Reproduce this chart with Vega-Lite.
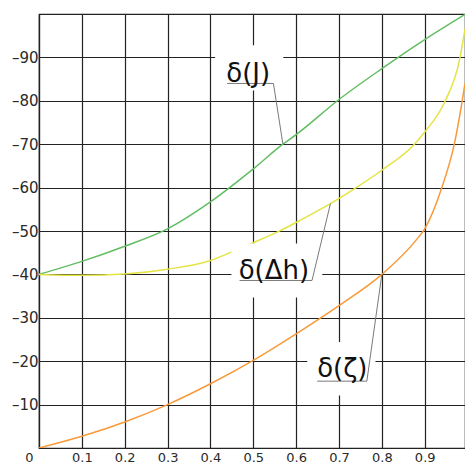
{
  "$schema": "https://vega.github.io/schema/vega-lite/v6.json",
  "width": 426,
  "height": 434,
  "autosize": "none",
  "padding": {"left": 39, "top": 14, "right": 0, "bottom": 17},
  "background": "white",
  "config": {
    "view": {"stroke": "#222", "strokeWidth": 1.2},
    "axis": {
      "title": null,
      "grid": true,
      "gridColor": "#222",
      "gridWidth": 1.2,
      "gridOpacity": 1,
      "domainColor": "#222",
      "domainWidth": 1.2,
      "tickSize": 0,
      "labelFont": "DejaVu Sans",
      "labelColor": "#2a2a2a",
      "labelOverlap": false,
      "labelFlush": false
    }
  },
  "layer": [
    {
      "data": {"values": [
        {"s": "J", "x": 0, "y": 40}, {"s": "J", "x": 0.1, "y": 43}, {"s": "J", "x": 0.2, "y": 46.5}, {"s": "J", "x": 0.3, "y": 50.5}, {"s": "J", "x": 0.4, "y": 56.7}, {"s": "J", "x": 0.5, "y": 64.3}, {"s": "J", "x": 0.569, "y": 70}, {"s": "J", "x": 0.6, "y": 72.2}, {"s": "J", "x": 0.7, "y": 80.3}, {"s": "J", "x": 0.8, "y": 87.4}, {"s": "J", "x": 0.9, "y": 94.1}, {"s": "J", "x": 0.994, "y": 99.9},
        {"s": "Dh", "x": 0, "y": 40}, {"s": "Dh", "x": 0.1, "y": 39.8}, {"s": "Dh", "x": 0.2, "y": 40.1}, {"s": "Dh", "x": 0.3, "y": 41.2}, {"s": "Dh", "x": 0.4, "y": 43.2}, {"s": "Dh", "x": 0.45, "y": 45.2}, {"s": "Dh", "x": 0.5, "y": 47.3}, {"s": "Dh", "x": 0.563, "y": 50.1}, {"s": "Dh", "x": 0.61, "y": 52.5}, {"s": "Dh", "x": 0.68, "y": 56.3}, {"s": "Dh", "x": 0.74, "y": 60}, {"s": "Dh", "x": 0.8, "y": 64}, {"s": "Dh", "x": 0.876, "y": 70}, {"s": "Dh", "x": 0.9, "y": 72.8}, {"s": "Dh", "x": 0.948, "y": 80}, {"s": "Dh", "x": 0.981, "y": 89.3}, {"s": "Dh", "x": 0.994, "y": 96.5},
        {"s": "Z", "x": 0, "y": 0}, {"s": "Z", "x": 0.1, "y": 2.7}, {"s": "Z", "x": 0.2, "y": 6.0}, {"s": "Z", "x": 0.3, "y": 10}, {"s": "Z", "x": 0.4, "y": 14.8}, {"s": "Z", "x": 0.5, "y": 20.2}, {"s": "Z", "x": 0.6, "y": 26.3}, {"s": "Z", "x": 0.7, "y": 32.8}, {"s": "Z", "x": 0.8, "y": 40}, {"s": "Z", "x": 0.88, "y": 47.9}, {"s": "Z", "x": 0.9, "y": 50.5}, {"s": "Z", "x": 0.94, "y": 60}, {"s": "Z", "x": 0.969, "y": 70}, {"s": "Z", "x": 0.985, "y": 78.5}, {"s": "Z", "x": 0.994, "y": 84}
      ]},
      "mark": {"type": "line", "interpolate": "monotone", "strokeWidth": 1.5, "clip": true},
      "encoding": {
        "x": {
          "field": "x", "type": "quantitative",
          "scale": {"domain": [0, 0.994], "nice": false, "zero": false},
          "axis": {
            "values": [0, 0.1, 0.2, 0.3, 0.4, 0.5, 0.6, 0.7, 0.8, 0.9],
            "labelExpr": "datum.value == 0 ? '0' : format(datum.value, '.1f')",
            "labelFontSize": 13,
            "labelPadding": 3,
            "labelAlign": "center",
            "labelOffset": {"condition": {"test": "datum.value == 0", "value": -10}, "value": 0}
          }
        },
        "y": {
          "field": "y", "type": "quantitative",
          "scale": {"domain": [0, 100], "nice": false},
          "axis": {
            "values": [10, 20, 30, 40, 50, 60, 70, 80, 90],
            "labelExpr": "'–' + datum.label",
            "labelFontSize": 15,
            "labelPadding": 1,
            "labelBaseline": "middle"
          }
        },
        "color": {
          "field": "s", "type": "nominal",
          "scale": {"domain": ["J", "Dh", "Z"], "range": ["#62bd62", "#e4e444", "#f89a3a"]},
          "legend": null
        }
      }
    },
    {
      "data": {"values": [
        {"x": 0.411, "x2": 0.570, "y": 92.8, "y2": 82.4},
        {"x": 0.449, "x2": 0.661, "y": 47.1, "y2": 34.7},
        {"x": 0.626, "x2": 0.785, "y": 24.4, "y2": 12.1}
      ]},
      "mark": {"type": "rect", "fill": "white", "stroke": null},
      "encoding": {
        "x": {"field": "x", "type": "quantitative"},
        "x2": {"field": "x2"},
        "y": {"field": "y", "type": "quantitative"},
        "y2": {"field": "y2"}
      }
    },
    {
      "data": {"values": [
        {"x": 0.439, "x2": 0.547, "y": 84.0, "y2": 84.0},
        {"x": 0.547, "x2": 0.569, "y": 84.0, "y2": 70.1},
        {"x": 0.468, "x2": 0.637, "y": 38.6, "y2": 38.6},
        {"x": 0.637, "x2": 0.680, "y": 38.6, "y2": 56.3},
        {"x": 0.649, "x2": 0.765, "y": 15.4, "y2": 15.4},
        {"x": 0.765, "x2": 0.800, "y": 15.4, "y2": 40}
      ]},
      "mark": {"type": "rule", "color": "#7a7a7a", "strokeWidth": 1},
      "encoding": {
        "x": {"field": "x", "type": "quantitative"},
        "x2": {"field": "x2"},
        "y": {"field": "y", "type": "quantitative"},
        "y2": {"field": "y2"}
      }
    },
    {
      "data": {"values": [
        {"t": "δ(J)", "x": 0.437, "y": 84.3},
        {"t": "δ(Δh)", "x": 0.466, "y": 39.0},
        {"t": "δ(ζ)", "x": 0.649, "y": 16.4}
      ]},
      "mark": {"type": "text", "font": "DejaVu Sans", "fontSize": 26, "align": "left", "baseline": "alphabetic", "color": "#111"},
      "encoding": {
        "x": {"field": "x", "type": "quantitative"},
        "y": {"field": "y", "type": "quantitative"},
        "text": {"field": "t"}
      }
    }
  ]
}
